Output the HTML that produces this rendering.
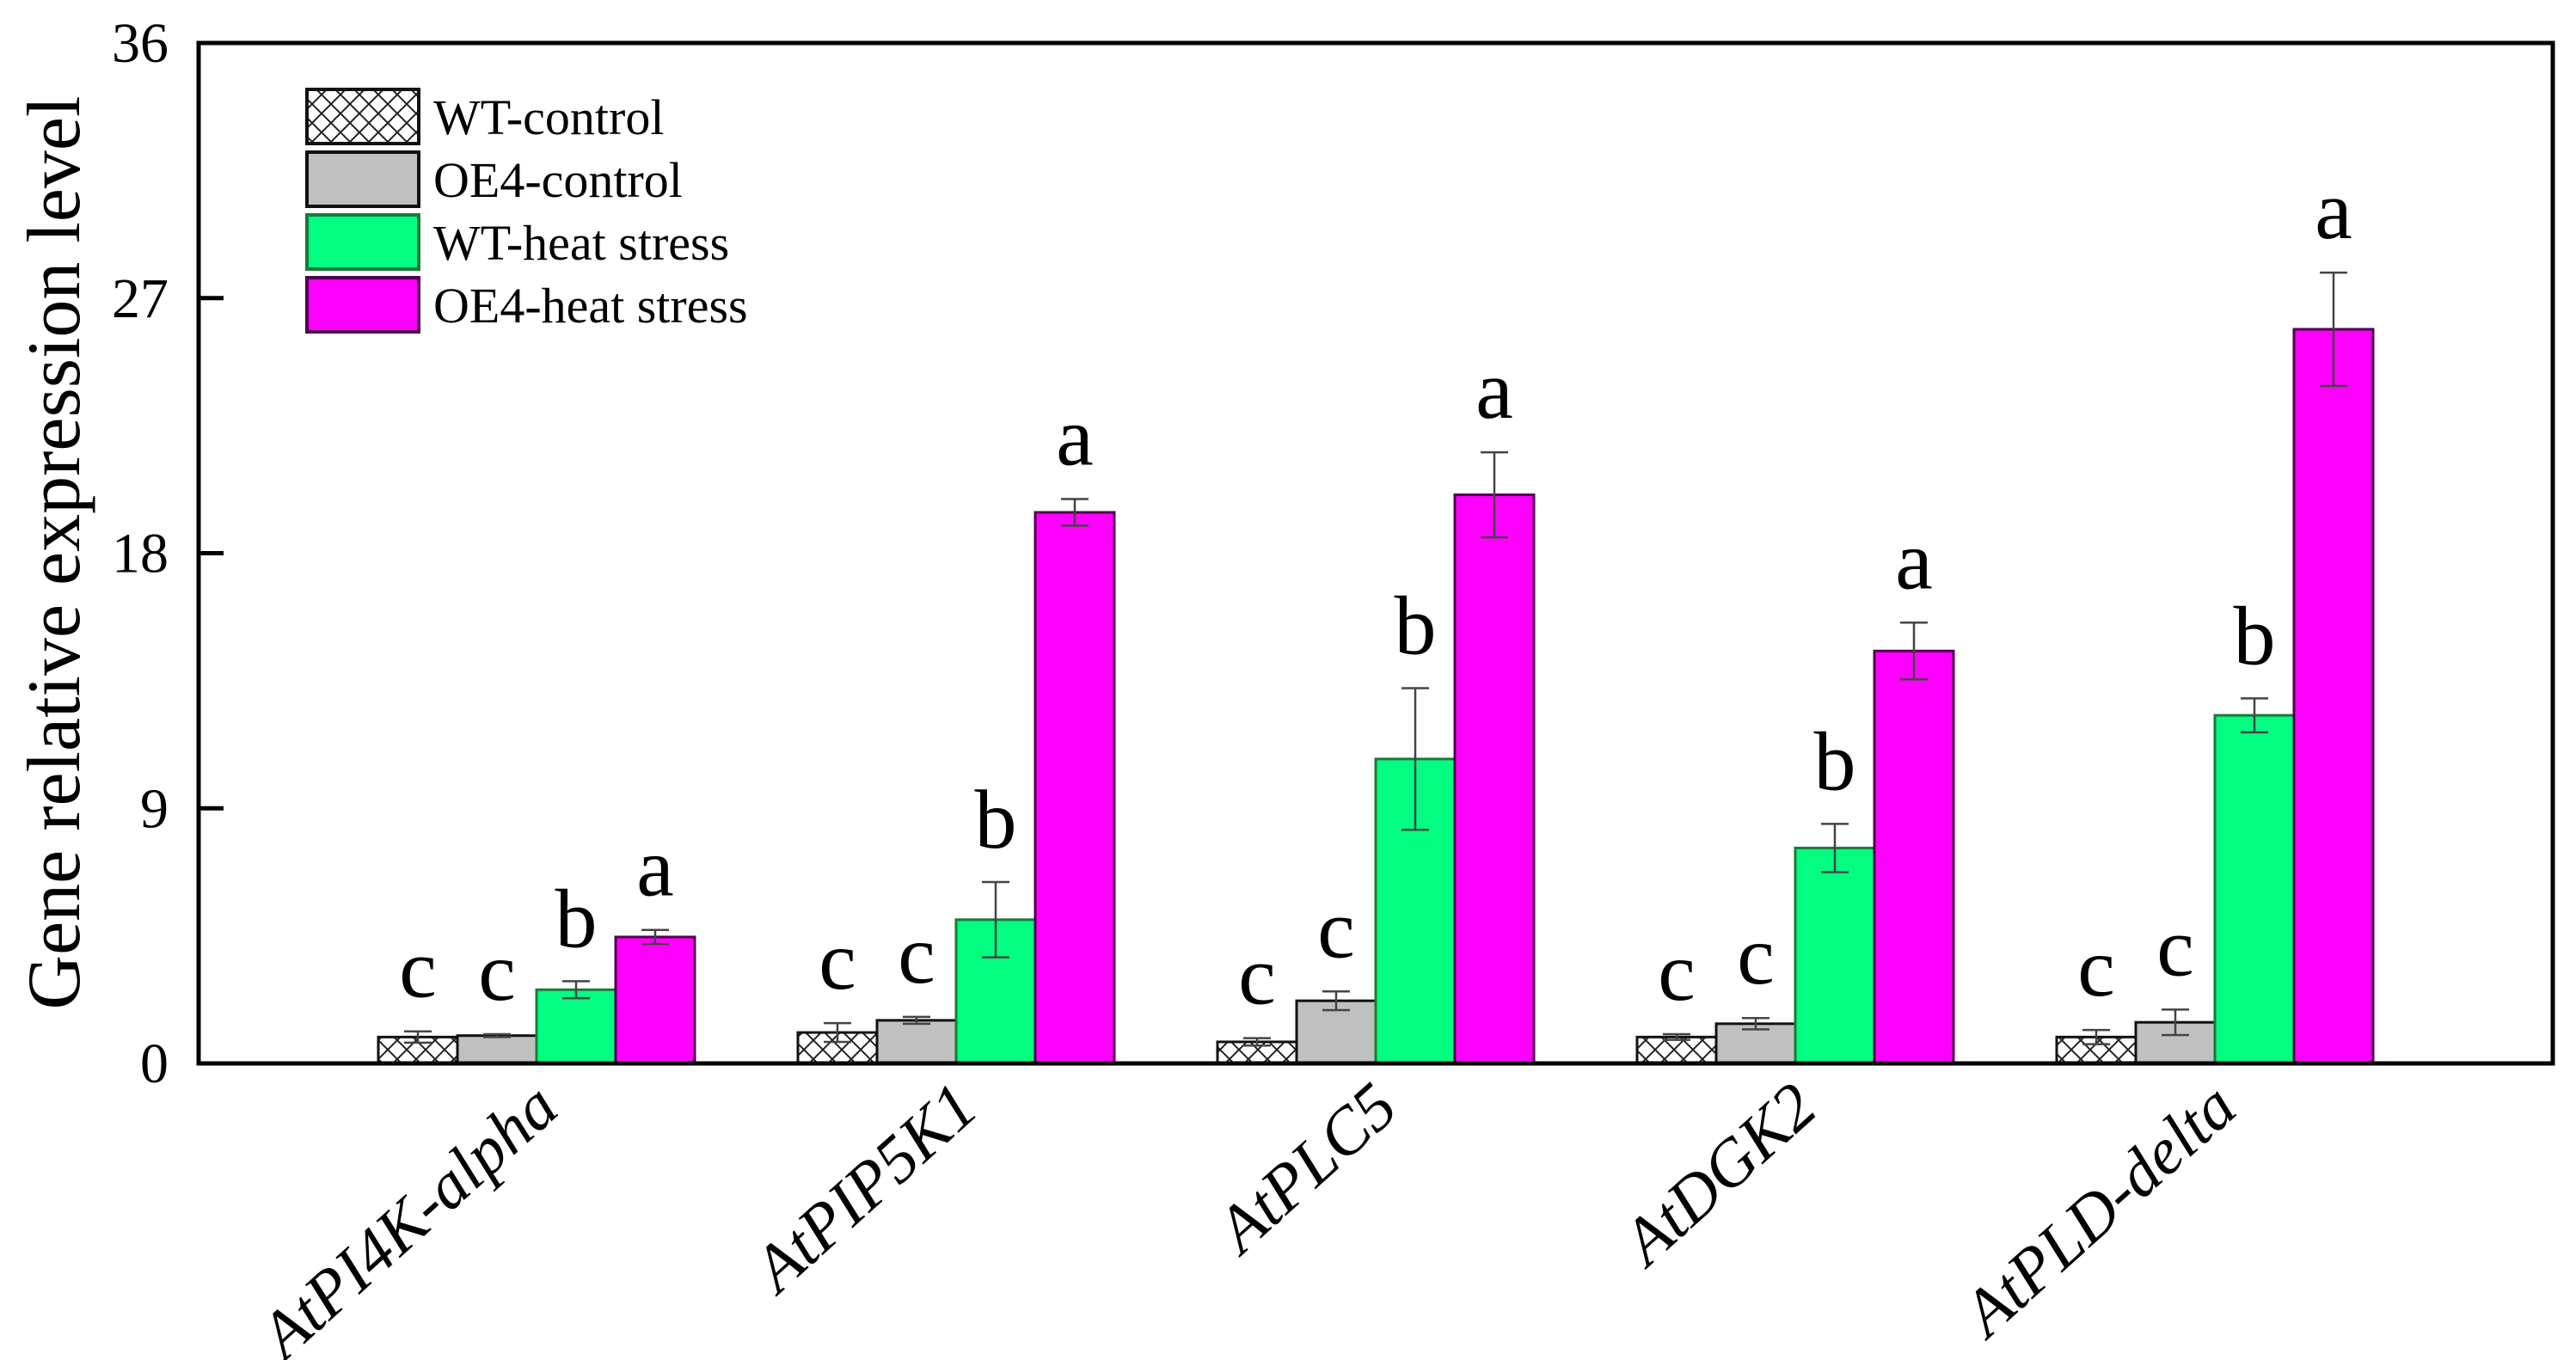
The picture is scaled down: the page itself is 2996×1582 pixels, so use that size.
<!DOCTYPE html>
<html><head><meta charset="utf-8"><style>
html,body{margin:0;padding:0;background:#fff;}
svg{display:block;}
text{font-family:"Liberation Serif","Times New Roman",serif;fill:#000;}
</style></head><body>
<svg id="chart" width="2996" height="1582" viewBox="0 0 2996 1582" xmlns="http://www.w3.org/2000/svg">
<defs>
<pattern id="hatch" patternUnits="userSpaceOnUse" width="22" height="22">
<rect width="22" height="22" fill="#fff"/>
<path d="M0,0 L22,22 M22,0 L0,22 M-11,11 L11,33 M11,-11 L33,11 M11,-11 L-11,11 M33,11 L11,33" stroke="#222" stroke-width="2"/>
</pattern>
</defs>
<g id="plot"></g>
</svg>
<script>
const categories = ["AtPI4K-alpha","AtPIP5K1","AtPLC5","AtDGK2","AtPLD-delta"];
const seriesNames = ["WT-control","OE4-control","WT-heat stress","OE4-heat stress"];
const wtControl = [0.93, 1.09, 0.76, 0.93, 0.93];
const oe4Control = [0.98, 1.52, 2.21, 1.40, 1.45];
const wtHeat = [2.6, 5.07, 10.74, 7.6, 12.28];
const oe4Heat = [4.46, 19.44, 20.06, 14.55, 25.9];
const wtControlErr = [0.2, 0.33, 0.13, 0.1, 0.25];
const oe4ControlErr = [0.05, 0.12, 0.33, 0.2, 0.45];
const wtHeatErr = [0.3, 1.33, 2.5, 0.85, 0.6];
const oe4HeatErr = [0.25, 0.47, 1.5, 1.0, 2.0];
const sigLetters = [["c","c","b","a"],["c","c","b","a"],["c","c","b","a"],["c","c","b","a"],["c","c","b","a"]];
const yTicks = [0, 9, 18, 27, 36];

const NS = "http://www.w3.org/2000/svg";
const g = document.getElementById("plot");
const L = 231, R = 2969, T = 50, B = 1237;
const yMax = 36;
const y = v => B - v / yMax * (B - T);
const groupCenter = i => 624 + i * 488;
const barW = 92;
const fills = ["url(#hatch)", "#c0c0c0", "#00ff80", "#ff00ff"];
const strokes = ["#111", "#111", "#1a7a3a", "#500050"];
const vals = [wtControl, oe4Control, wtHeat, oe4Heat];
const errs = [wtControlErr, oe4ControlErr, wtHeatErr, oe4HeatErr];

function mk(tag, attrs, txt) {
  const e = document.createElementNS(NS, tag);
  for (const k in attrs) e.setAttribute(k, attrs[k]);
  if (txt !== undefined) e.textContent = txt;
  g.appendChild(e);
  return e;
}

categories.forEach((c, i) => {
  for (let s = 0; s < 4; s++) {
    const v = vals[s][i], er = errs[s][i];
    const x0 = groupCenter(i) + (s - 2) * barW;
    const r = mk("rect", {x: x0, y: y(v), width: barW, height: B - y(v), fill: fills[s], stroke: strokes[s], "stroke-width": 3});
    
    
    const cx = x0 + barW / 2;
    const eb = mk("path", {d: `M${cx},${y(v + er)} L${cx},${y(v - er)} M${cx - 16},${y(v + er)} L${cx + 16},${y(v + er)} M${cx - 16},${y(v - er)} L${cx + 16},${y(v - er)}`, stroke: "#444", "stroke-width": 2.5, fill: "none"});
    
    
    const t = mk("text", {x: cx, y: y(v + er) - 40, "text-anchor": "middle", "font-size": 98}, sigLetters[i][s]);
    
    
  }
  const lx = groupCenter(i) - 8, ly = B + 16;
  const xl = mk("text", {x: lx, y: ly, "text-anchor": "end", "font-size": 77, "font-style": "italic", transform: `rotate(-42 ${lx} ${ly})`, "dominant-baseline": "hanging"}, c);
  
  
});

const fr = mk("rect", {x: L, y: T, width: R - L, height: B - T, fill: "none", stroke: "#000", "stroke-width": 5});



yTicks.forEach(t => {
  const tk = mk("line", {x1: L, x2: L + 29, y1: y(t), y2: y(t), stroke: "#000", "stroke-width": 5});
  
  
  const tl = mk("text", {x: 196, y: y(t) + 22, "text-anchor": "end", "font-size": 66}, String(t));
  
  
});

const yt = mk("text", {x: 0, y: 0, "text-anchor": "middle", "font-size": 88, transform: `translate(92,643) rotate(-90)`}, "Gene relative expression level");



seriesNames.forEach((n, s) => {
  const by = 104 + s * 73;
  const lb = mk("rect", {x: 357, y: by, width: 130, height: 63, fill: fills[s], stroke: strokes[s], "stroke-width": 4});
  
  
  const lt = mk("text", {x: 504, y: by + 52, "font-size": 58}, n);
  
  
});
</script>
</body></html>
